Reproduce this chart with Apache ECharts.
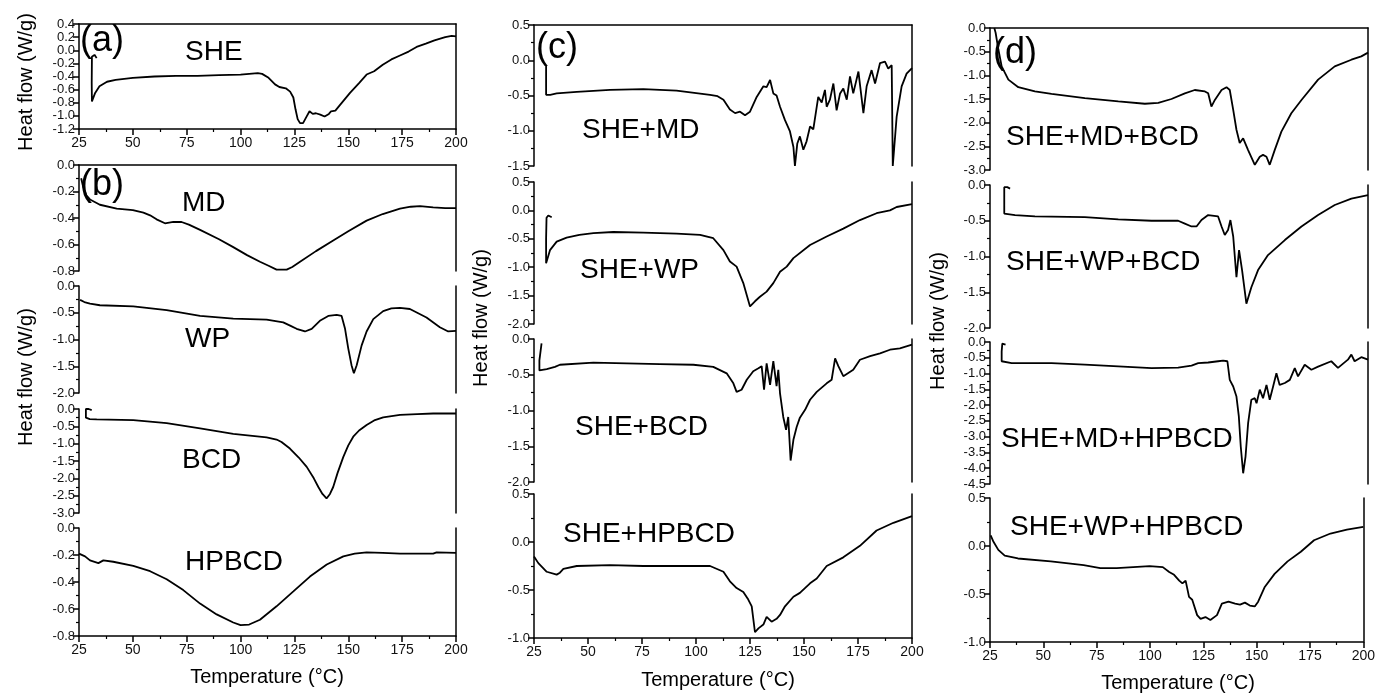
<!DOCTYPE html>
<html>
<head>
<meta charset="utf-8">
<script src="https://cdn.jsdelivr.net/npm/echarts@6/dist/echarts.min.js"></script>
<style>html,body{margin:0;background:#fff}#chart{width:1378px;height:693px}</style>
</head>
<body>
<div id="chart"></div>
<script>
// temperature (°C), heat flow (W/g) pairs
var she = [[33.2,-0.12],[32.2,-0.07],[31,-0.1],[30.9,-0.5],[31,-0.78],[32.5,-0.65],[34.5,-0.55],[38,-0.48],[42,-0.45],[50,-0.42],[60,-0.4],[70,-0.39],[80,-0.39],[90,-0.38],[100,-0.37],[108,-0.35],[110,-0.36],[113,-0.42],[116,-0.52],[118,-0.56],[121,-0.58],[123,-0.63],[124.5,-0.72],[125.5,-0.9],[126.5,-1.05],[127.6,-1.11],[129,-1.11],[130.5,-1.02],[132,-0.93],[133.5,-0.97],[135,-0.96],[137,-0.98],[139,-1.01],[141,-0.97],[142,-0.93],[144,-0.92],[146,-0.84],[150.8,-0.65],[155,-0.5],[158.5,-0.37],[162,-0.32],[166,-0.22],[170,-0.14],[174,-0.08],[178,-0.02],[181.7,0.05],[186,0.1],[190,0.15],[195,0.2],[198,0.22],[200,0.21]];
var md = [[26,-0.1],[27,-0.17],[28.5,-0.23],[30.1,-0.26],[34.7,-0.3],[42.5,-0.33],[50,-0.34],[54.9,-0.36],[58,-0.38],[61,-0.41],[64.9,-0.44],[68.8,-0.43],[72.6,-0.43],[76,-0.45],[81.2,-0.49],[90,-0.56],[96.6,-0.62],[103,-0.68],[109,-0.73],[113,-0.76],[116.7,-0.79],[121.4,-0.79],[124,-0.77],[127.6,-0.73],[135,-0.65],[143,-0.57],[150,-0.5],[158.5,-0.42],[166,-0.37],[174,-0.33],[179,-0.315],[183.3,-0.31],[189.4,-0.32],[195,-0.325],[200,-0.325]];
var wp = [[25.5,-0.26],[27.5,-0.3],[30.1,-0.33],[34.7,-0.36],[50.2,-0.38],[65.7,-0.45],[81.2,-0.56],[96.6,-0.61],[112.1,-0.63],[119.8,-0.68],[123,-0.74],[126,-0.8],[129.9,-0.85],[133,-0.8],[136.8,-0.65],[140.7,-0.56],[144.6,-0.54],[146.9,-0.56],[148.5,-0.8],[150,-1.17],[151.5,-1.48],[152.6,-1.63],[153.9,-1.48],[156.2,-1.11],[158.5,-0.85],[161.6,-0.62],[166.2,-0.47],[170,-0.42],[174,-0.41],[178.6,-0.43],[182,-0.5],[186.3,-0.59],[192.5,-0.77],[196.4,-0.85],[200,-0.84]];
var bcd = [[30.9,-0.03],[29.5,0.0],[28.2,0.0],[28.2,-0.25],[30,-0.29],[33.2,-0.3],[50.2,-0.32],[65.7,-0.41],[81.2,-0.56],[96.6,-0.72],[112.1,-0.82],[116.7,-0.88],[119,-0.95],[122.9,-1.14],[127,-1.4],[130.7,-1.67],[134,-2.0],[136.1,-2.25],[138,-2.45],[139.9,-2.58],[141.5,-2.45],[143,-2.25],[145,-1.85],[147.7,-1.38],[150,-1.05],[152.3,-0.8],[155,-0.62],[158.5,-0.46],[162,-0.33],[166.2,-0.24],[174,-0.17],[182,-0.15],[189.4,-0.13],[200,-0.13]];
var hpbcd = [[25,-0.19],[27.8,-0.21],[30.1,-0.24],[34,-0.26],[36.3,-0.24],[40.9,-0.25],[50.2,-0.28],[58,-0.32],[65.7,-0.38],[73.4,-0.46],[81.2,-0.56],[88.9,-0.64],[96.6,-0.7],[100,-0.72],[104,-0.715],[109,-0.68],[116.7,-0.58],[124.5,-0.47],[132.2,-0.36],[140,-0.27],[147.7,-0.21],[153,-0.19],[158.5,-0.18],[166,-0.185],[174,-0.19],[182,-0.19],[189.4,-0.19],[191,-0.18],[200,-0.185]];
var sheMd = [[30.6,-0.07],[30.6,-0.3],[30.6,-0.49],[32.5,-0.49],[35.5,-0.47],[44.8,-0.45],[60.2,-0.42],[75.6,-0.41],[91,-0.43],[106.5,-0.49],[110,-0.51],[112.7,-0.56],[115.7,-0.7],[118.1,-0.75],[120.4,-0.73],[122.7,-0.78],[125,-0.73],[128.1,-0.52],[131.2,-0.37],[132.7,-0.38],[134.3,-0.28],[135.8,-0.47],[137.3,-0.5],[138.9,-0.66],[141.2,-0.85],[143.5,-1.01],[145.1,-1.23],[145.8,-1.5],[146.9,-1.18],[148.1,-1.08],[149.7,-1.27],[151.2,-1.15],[152.8,-0.94],[154.3,-0.98],[156.6,-0.52],[158.2,-0.6],[159.7,-0.42],[160.5,-0.66],[162,-0.56],[163.6,-0.33],[165.1,-0.71],[166.7,-0.47],[168.2,-0.4],[169.8,-0.56],[171.3,-0.23],[172.8,-0.47],[175.2,-0.16],[177.5,-0.75],[179,-0.37],[181.3,-0.14],[182.9,-0.33],[185.2,-0.04],[187.5,-0.02],[189,-0.12],[190.6,-0.07],[191.1,-1.5],[191.7,-1.48],[192.9,-0.8],[195.2,-0.37],[197.5,-0.19],[200,-0.11]];
var sheWp = [[33.2,-0.12],[31.6,-0.09],[30.8,-0.13],[30.6,-0.5],[30.6,-0.93],[32.4,-0.7],[35.5,-0.55],[40.1,-0.48],[46,-0.43],[52.5,-0.4],[61.7,-0.38],[75.6,-0.39],[91,-0.41],[101.9,-0.43],[108,-0.49],[112.7,-0.7],[115.7,-0.9],[118.8,-0.99],[121.9,-1.28],[125,-1.69],[127.3,-1.6],[129.6,-1.52],[132.7,-1.43],[135.8,-1.28],[138.9,-1.08],[142,-0.99],[145.1,-0.84],[152.8,-0.61],[160.5,-0.46],[168.2,-0.32],[175.9,-0.17],[183.6,-0.05],[189.8,0.0],[192.9,0.06],[200,0.11]];
var sheBcd = [[28.5,-0.06],[28.1,-0.04],[27.6,-0.05],[27.5,-0.3],[27.5,-0.44],[30.9,-0.42],[34.7,-0.39],[37,-0.36],[52.5,-0.33],[67.9,-0.34],[83.3,-0.35],[98.8,-0.36],[108,-0.39],[114.2,-0.48],[117.3,-0.62],[118.8,-0.74],[121.1,-0.71],[123.5,-0.57],[126.5,-0.45],[128.9,-0.41],[130.4,-0.38],[131.5,-0.71],[132.7,-0.34],[134.3,-0.64],[135.8,-0.31],[137.3,-0.66],[138.1,-0.43],[138.9,-0.76],[140.4,-1.09],[141.7,-1.27],[142.7,-1.09],[143.8,-1.7],[145.1,-1.41],[146.6,-1.23],[148.1,-1.1],[150.5,-0.99],[152.8,-0.85],[155.9,-0.74],[160.5,-0.62],[162.8,-0.57],[164.4,-0.27],[165.9,-0.38],[168.2,-0.52],[172.8,-0.43],[175.9,-0.29],[180.6,-0.24],[185.2,-0.2],[189.8,-0.15],[194.4,-0.13],[200,-0.08]];
var sheHpbcd = [[25,-0.15],[27,-0.22],[30.9,-0.31],[35.5,-0.34],[37,-0.32],[38.6,-0.28],[44.8,-0.25],[60.2,-0.24],[75.6,-0.25],[91,-0.25],[106.5,-0.25],[112.7,-0.31],[115.7,-0.41],[118.8,-0.48],[121.9,-0.52],[124.2,-0.6],[125.8,-0.67],[127.3,-0.94],[128.9,-0.9],[131.2,-0.86],[132.7,-0.78],[135,-0.83],[137.3,-0.8],[138.9,-0.76],[141.2,-0.67],[145.1,-0.57],[148.1,-0.53],[152.8,-0.43],[155.9,-0.38],[160.5,-0.25],[168.2,-0.16],[175.9,-0.04],[183.6,0.12],[191.4,0.2],[200,0.27]];
var sheMdBcd = [[27,0.0],[27.6,-0.1],[28.9,-0.46],[30.4,-0.81],[33.5,-1.09],[38.1,-1.25],[45.8,-1.34],[53.5,-1.39],[68.9,-1.48],[84.4,-1.55],[96.7,-1.6],[102.9,-1.58],[109,-1.5],[115.2,-1.38],[119.8,-1.31],[124.5,-1.34],[126,-1.38],[127.5,-1.66],[129.1,-1.52],[132.2,-1.31],[134.5,-1.25],[136,-1.31],[137.6,-1.73],[139.1,-2.15],[140.6,-2.43],[142.2,-2.33],[144.5,-2.58],[147.6,-2.89],[149.9,-2.72],[151.4,-2.68],[153,-2.72],[154.5,-2.89],[156.8,-2.58],[159.9,-2.19],[164.5,-1.8],[169.2,-1.52],[176.9,-1.09],[184.6,-0.81],[192.3,-0.67],[196.9,-0.6],[200,-0.52]];
var sheWpBcd = [[34.3,-0.05],[33,-0.03],[31.6,-0.03],[31.6,-0.4],[36.6,-0.42],[45.8,-0.44],[68.9,-0.45],[84.4,-0.48],[99.8,-0.5],[112.1,-0.5],[115.2,-0.54],[118.3,-0.58],[120.6,-0.58],[122.9,-0.49],[126,-0.42],[130.6,-0.44],[132.2,-0.58],[133.7,-0.7],[135.2,-0.63],[136.3,-0.49],[137.6,-0.72],[139.1,-1.29],[140.3,-0.91],[141.7,-1.19],[143.7,-1.66],[146,-1.43],[149.1,-1.19],[153.7,-0.98],[161.5,-0.77],[169.2,-0.58],[176.9,-0.42],[184.6,-0.28],[192.3,-0.19],[200,-0.14]];
var sheMdHpbcd = [[32.2,-0.08],[31.5,-0.05],[30.7,-0.05],[30.4,-0.3],[30.4,-0.61],[35,-0.67],[53.5,-0.67],[68.9,-0.72],[84.4,-0.77],[99.8,-0.83],[112.1,-0.81],[118.3,-0.75],[121.4,-0.67],[126,-0.65],[130.6,-0.61],[132.9,-0.59],[134.9,-0.61],[136,-1.2],[137.6,-1.41],[139.1,-1.73],[140.2,-2.36],[141.1,-3.32],[142.2,-4.16],[143.3,-3.63],[144.5,-2.57],[146,-1.83],[147.6,-1.78],[148.4,-1.94],[149.9,-1.51],[151.4,-1.78],[153,-1.36],[154.5,-1.83],[156.1,-1.4],[157.6,-0.99],[159.1,-1.36],[161.5,-1.3],[163.8,-1.2],[166.1,-0.83],[167.6,-1.09],[170.7,-0.72],[173.8,-0.88],[176.9,-0.78],[183,-0.61],[186.1,-0.82],[190.7,-0.56],[192.3,-0.4],[193.8,-0.61],[196.9,-0.48],[200,-0.56]];
var sheWpHpbcd = [[25.3,0.11],[26.5,0.05],[28.9,-0.04],[31.9,-0.1],[38.1,-0.13],[53.5,-0.16],[68.9,-0.2],[76.7,-0.23],[84.4,-0.23],[92.1,-0.22],[99.8,-0.21],[106,-0.22],[109,-0.27],[111.3,-0.3],[113.7,-0.36],[115.2,-0.39],[116.7,-0.36],[118.3,-0.53],[119.8,-0.56],[122.1,-0.72],[123.7,-0.76],[126,-0.74],[128.3,-0.77],[131.4,-0.72],[133.7,-0.6],[136.8,-0.58],[139.9,-0.6],[142.2,-0.61],[144.5,-0.59],[146.8,-0.62],[149.1,-0.63],[150.7,-0.58],[153.7,-0.43],[158.4,-0.29],[164.5,-0.16],[170.7,-0.06],[176.9,0.06],[184.6,0.13],[192.3,0.17],[200,0.2]];

var tempRange = [25, 200, 25];
// y ranges: [min, max, interval]
var yRanges = {
  she: [-1.2, 0.4, 0.2], md: [-0.8, 0, 0.2], wp: [-2, 0, 0.5], bcd: [-3, 0, 0.5], hpbcd: [-0.8, 0, 0.2],
  sheMd: [-1.5, 0.5, 0.5], sheWp: [-2, 0.5, 0.5], sheBcd: [-2, 0, 0.5], sheHpbcd: [-1, 0.5, 0.5],
  sheMdBcd: [-3, 0, 0.5], sheWpBcd: [-2, 0, 0.5], sheMdHpbcd: [-4.5, 0, 0.5], sheWpHpbcd: [-1, 0.5, 0.5]
};

var FONT = '"Liberation Sans", Arial, sans-serif';

// layout: box = [left, top, width, height]
var panels = [
  {key: 'she', data: she, name: 'SHE', box: [79, 24, 377, 105], bottom: true, top: true, minor: false, nx: 185, ny: 52},
  {key: 'md', data: md, name: 'MD', box: [79, 165, 377, 106], top: true, nx: 182, ny: 203},
  {key: 'wp', data: wp, name: 'WP', box: [79, 286, 377, 107], nx: 185, ny: 339},
  {key: 'bcd', data: bcd, name: 'BCD', box: [79, 409, 377, 104], nx: 182, ny: 460},
  {key: 'hpbcd', data: hpbcd, name: 'HPBCD', box: [79, 528, 377, 108], bottom: true, nx: 185, ny: 562},
  {key: 'sheMd', data: sheMd, name: 'SHE+MD', box: [534, 25, 378, 141], top: true, nx: 582, ny: 130},
  {key: 'sheWp', data: sheWp, name: 'SHE+WP', box: [534, 182, 378, 142], nx: 580, ny: 270},
  {key: 'sheBcd', data: sheBcd, name: 'SHE+BCD', box: [534, 339, 378, 143], nx: 575, ny: 427},
  {key: 'sheHpbcd', data: sheHpbcd, name: 'SHE+HPBCD', box: [534, 494, 378, 144], bottom: true, nx: 563, ny: 534},
  {key: 'sheMdBcd', data: sheMdBcd, name: 'SHE+MD+BCD', box: [990, 28, 378, 142], top: true, nx: 1006, ny: 137},
  {key: 'sheWpBcd', data: sheWpBcd, name: 'SHE+WP+BCD', box: [990, 185, 378, 143], nx: 1006, ny: 262},
  {key: 'sheMdHpbcd', data: sheMdHpbcd, name: 'SHE+MD+HPBCD', box: [990, 342, 378, 142], nx: 1001, ny: 439},
  {key: 'sheWpHpbcd', data: sheWpHpbcd, name: 'SHE+WP+HPBCD', box: [990, 498, 378, 144], bottom: true, nx: 1010, ny: 527}
];

var axisStyle = {color: '#000', width: 1.5};
var curveStyle = {color: '#000', width: 1.8};
var grid = [], xAxis = [], yAxis = [], series = [], graphic = [];

panels.forEach(function (p, i) {
  var r = yRanges[p.key];
  grid.push({left: p.box[0], top: p.box[1], width: p.box[2], height: p.box[3]});
  xAxis.push({
    type: 'value', gridIndex: i, min: tempRange[0], max: tempRange[1], interval: tempRange[2],
    position: 'bottom',
    axisLine: {show: !!p.bottom, onZero: false, lineStyle: axisStyle},
    axisTick: {show: !!p.bottom, length: 6, lineStyle: axisStyle},
    minorTick: {show: !!p.bottom, splitNumber: 2, length: 3, lineStyle: {color: '#000', width: 1.2}},
    axisLabel: {show: !!p.bottom, color: '#111', fontSize: 14, fontFamily: FONT, margin: 7},
    splitLine: {show: false}
  });
  xAxis.push({
    type: 'value', gridIndex: i, min: tempRange[0], max: tempRange[1], position: 'top',
    axisLine: {show: !!p.top, onZero: false, lineStyle: axisStyle},
    axisTick: {show: false}, axisLabel: {show: false}, splitLine: {show: false}
  });
  yAxis.push({
    type: 'value', gridIndex: i, min: r[0], max: r[1], interval: r[2], position: 'left',
    axisLine: {show: true, onZero: false, lineStyle: axisStyle},
    axisTick: {show: true, length: 6, lineStyle: axisStyle},
    minorTick: {show: p.minor !== false, splitNumber: 2, length: 3, lineStyle: {color: '#000', width: 1.2}},
    axisLabel: {color: '#111', fontSize: 13, fontFamily: FONT, margin: 4,
      formatter: function (v) { return (Math.abs(v) < 1e-9 ? 0 : v).toFixed(1); }},
    splitLine: {show: false}
  });
  yAxis.push({
    type: 'value', gridIndex: i, min: r[0], max: r[1], position: 'right',
    axisLine: {show: true, onZero: false, lineStyle: axisStyle},
    axisTick: {show: false}, axisLabel: {show: false}, splitLine: {show: false}
  });
  series.push({
    type: 'line', xAxisIndex: 2 * i, yAxisIndex: 2 * i, data: p.data,
    showSymbol: false, symbol: 'none', lineStyle: curveStyle, clip: true, animation: false
  });
  graphic.push({
    type: 'text', x: p.nx, y: p.ny,
    style: {text: p.name, fontSize: 28, fontFamily: FONT, fill: '#000', textVerticalAlign: 'middle'}
  });
});

var tags = [['(a)', 80, 41], ['(b)', 80, 185], ['(c)', 536, 48], ['(d)', 993, 53]];
tags.forEach(function (t) {
  graphic.push({type: 'text', x: t[1], y: t[2],
    style: {text: t[0], fontSize: 36, fontFamily: FONT, fill: '#000', textVerticalAlign: 'middle'}});
});

var yTitles = [[26, 82], [26, 377], [481, 318], [938, 321]];
yTitles.forEach(function (t) {
  graphic.push({type: 'text', x: t[0], y: t[1], rotation: Math.PI / 2,
    style: {text: 'Heat flow (W/g)', fontSize: 20, fontFamily: FONT, fill: '#000',
      textAlign: 'center', textVerticalAlign: 'middle'}});
});

var xTitles = [[267, 677], [718, 680], [1178, 683]];
xTitles.forEach(function (t) {
  graphic.push({type: 'text', x: t[0], y: t[1],
    style: {text: 'Temperature (°C)', fontSize: 20, fontFamily: FONT, fill: '#000',
      textAlign: 'center', textVerticalAlign: 'middle'}});
});

var chart = echarts.init(document.getElementById('chart'));
chart.setOption({
  backgroundColor: '#fff',
  animation: false,
  grid: grid,
  xAxis: xAxis,
  yAxis: yAxis,
  series: series,
  graphic: graphic
});
</script>
</body>
</html>
